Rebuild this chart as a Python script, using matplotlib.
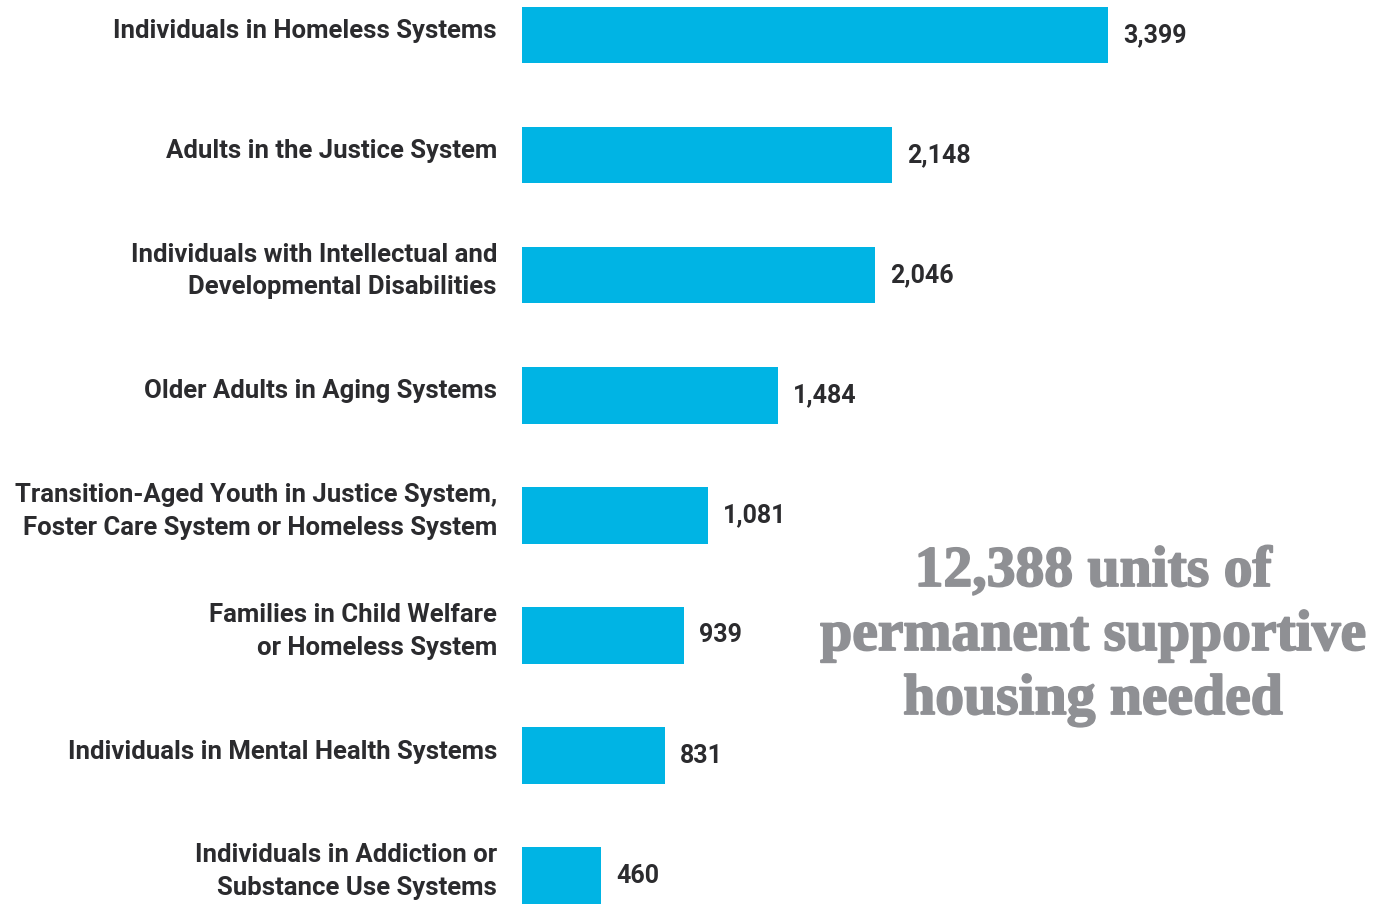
import matplotlib
matplotlib.use("Agg")
import matplotlib.pyplot as plt
import matplotlib.transforms as mtransforms
import matplotlib.patheffects as pe

categories = [
    "Individuals in Homeless Systems",
    "Adults in the Justice System",
    "Individuals with Intellectual and\nDevelopmental Disabilities",
    "Older Adults in Aging Systems",
    "Transition-Aged Youth in Justice System,\nFoster Care System or Homeless System",
    "Families in Child Welfare\nor Homeless System",
    "Individuals in Mental Health Systems",
    "Individuals in Addiction or\nSubstance Use Systems",
]
units_needed = [3399, 2148, 2046, 1484, 1081, 939, 831, 460]
total_label = "12,388 units of\npermanent supportive\nhousing needed"

bar_color = "#00B4E4"
text_color = "#2B2B2E"
big_color = "#8F9094"
label_font = "Roboto"
big_font = "Liberation Serif"

W, H = 1375, 905
fig = plt.figure(figsize=(W / 100, H / 100), dpi=100)

# axes start where the bars start; 0.1724 px per unit
left_px = 522
px_per_unit = 0.1724
ax = fig.add_axes([left_px / W, 0, (W - left_px) / W, 1])
ax.set_xlim(0, (W - left_px) / px_per_unit)
top_px, step_px = 35, 120.1
ax.set_ylim((H - top_px) / step_px, -top_px / step_px)
ax.axis("off")

ypos = list(range(len(categories)))
ax.barh(ypos, units_needed, height=0.47, color=bar_color)

lab_off = mtransforms.offset_copy(ax.transData, fig=fig, x=-25, y=4, units="dots")
val_off = mtransforms.offset_copy(ax.transData, fig=fig, x=15, y=0, units="dots")
for y, cat, v in zip(ypos, categories, units_needed):
    ax.text(0, y, cat, transform=lab_off, ha="right", va="center",
            fontsize=18.5, fontweight="bold", family=label_font,
            color=text_color, linespacing=1.45, clip_on=False)
    ax.text(v, y, f"{v:,}", transform=val_off,
            ha="left", va="center", fontsize=18, fontweight="bold",
            family=label_font, color=text_color)

fig.text(1093 / W, 1 - 636 / H, total_label, ha="center", va="center",
         fontsize=41.5, fontweight="bold", family=big_font,
         color=big_color, linespacing=1.3,
         path_effects=[pe.withStroke(linewidth=1.3, foreground=big_color)])

fig.savefig("out.png", dpi=100, facecolor="white")
